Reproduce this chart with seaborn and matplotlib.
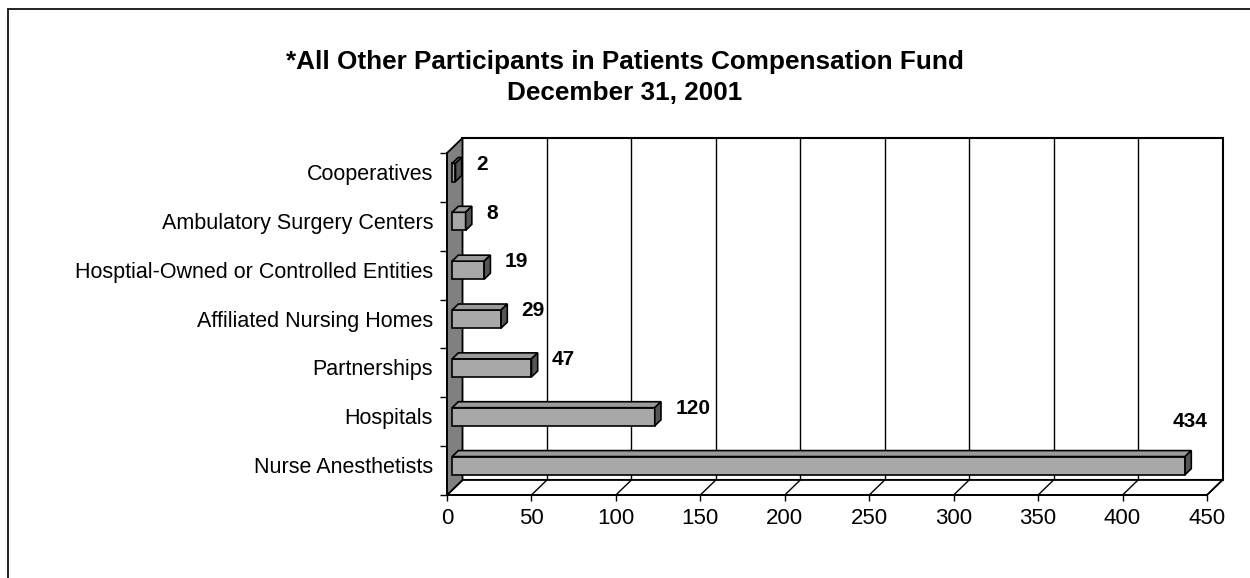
import matplotlib
matplotlib.use("Agg")
import matplotlib.pyplot as plt
import matplotlib.transforms as mtransforms
from matplotlib.patches import Polygon, Rectangle
from matplotlib.lines import Line2D
import seaborn as sns
import pandas as pd
import numpy as np

# --- data ---
categories = ["Cooperatives", "Ambulatory Surgery Centers",
              "Hosptial-Owned or Controlled Entities", "Affiliated Nursing Homes",
              "Partnerships", "Hospitals", "Nurse Anesthetists"]
counts = [2, 8, 19, 29, 47, 120, 434]
x_ticks = [0, 50, 100, 150, 200, 250, 300, 350, 400, 450]
title_lines = ["*All Other Participants in Patients Compensation Fund",
               "December 31, 2001"]

df = pd.DataFrame({"Category": categories, "Count": counts})

sns.set_theme(style="white")
plt.rcParams['font.family'] = ['Liberation Sans', 'DejaVu Sans']
plt.rcParams['axes.unicode_minus'] = False
# plain black text like the Excel original
for k in ['text.color', 'axes.labelcolor', 'xtick.color', 'ytick.color']:
    plt.rcParams[k] = 'black'

W, H, DPI = 1250, 578, 100
fig = plt.figure(figsize=(W / DPI, H / DPI), dpi=DPI, facecolor='white')

# front plane of the fake 3D box, in pixels
left_px, right_px, top_px, bot_px = 447, 1207, 153, 495
ax = fig.add_axes([left_px / W, 1 - bot_px / H,
                   (right_px - left_px) / W, (bot_px - top_px) / H])
ax.set_facecolor('none')

# depth vector (pixels) from front plane to back wall
DX, DY = 15.5, 15.0
BAR_F, BAR_B = 0.33, 0.73   # bar front / back depth, fraction of depth

sns.barplot(data=df, x="Count", y="Category", orient="h", color="#a8a8a8",
            saturation=1, edgecolor="black", linewidth=1.2, width=0.37, ax=ax)

ax.set_xlim(x_ticks[0], x_ticks[-1])
ax.set_ylim(len(categories) - 0.5, -0.5)
ax.set_xlabel("")
ax.set_ylabel("")
for s in ["top", "right"]:
    ax.spines[s].set_visible(False)
for s in ["left", "bottom"]:
    ax.spines[s].set_color("black")
    ax.spines[s].set_linewidth(1.3)
    ax.spines[s].set_zorder(3)

# ticks
ax.set_xticks(x_ticks)
ax.set_xticklabels([str(t) for t in x_ticks], fontsize=16)
ax.tick_params(axis='x', direction='out', length=4, width=1, color='black',
               labelcolor='black', pad=5, bottom=True)
idx = np.arange(len(categories))
ax.set_yticks(idx - 0.11)
ax.set_yticklabels(categories, fontsize=15.5)
ax.set_yticks(np.arange(len(categories) + 1) - 0.5, minor=True)
ax.tick_params(axis='y', which='major', length=0, pad=10, left=True,
               labelcolor='black')
ax.tick_params(axis='y', which='minor', direction='out', length=5, width=1,
               color='black', left=True)

ident = mtransforms.IdentityTransform()
back = mtransforms.offset_copy(ax.transAxes, fig=fig, x=DX, y=DY, units='dots')
back_data = mtransforms.offset_copy(ax.transData, fig=fig, x=DX, y=DY, units='dots')


def px(x, y, depth=0.0):
    p = ax.transData.transform((x, y))
    return (p[0] + depth * DX, p[1] + depth * DY)


y_bot, y_top = ax.get_ylim()
x_lo, x_hi = ax.get_xlim()
bars = [p for p in ax.patches if isinstance(p, Rectangle)]

# back wall
ax.add_patch(Rectangle((0, 0), 1, 1, transform=back, facecolor='white',
                       edgecolor='black', linewidth=1.5, clip_on=False, zorder=0))
# gridlines on back wall
for t in x_ticks[1:-1]:
    ax.add_line(Line2D([t, t], [y_bot, y_top], transform=back_data, color='black',
                       linewidth=1.0, clip_on=False, zorder=0.5))
# floor
floor = [px(x_lo, y_bot), px(x_hi, y_bot), px(x_hi, y_bot, 1), px(x_lo, y_bot, 1)]
ax.add_patch(Polygon(floor, closed=True, transform=ident, facecolor='white',
                     edgecolor='black', linewidth=1.3, clip_on=False, zorder=0.6))
for t in x_ticks:
    a, b = px(t, y_bot), px(t, y_bot, 1)
    ax.add_line(Line2D([a[0], b[0]], [a[1], b[1]], transform=ident, color='black',
                       linewidth=1.0, clip_on=False, zorder=0.7))
# left wall
wall = [px(x_lo, y_bot), px(x_lo, y_top), px(x_lo, y_top, 1), px(x_lo, y_bot, 1)]
ax.add_patch(Polygon(wall, closed=True, transform=ident, facecolor='#808080',
                     edgecolor='black', linewidth=1.3, clip_on=False, zorder=0.8))

# bars: move front faces into depth and add top/side faces
bar_front = mtransforms.offset_copy(ax.transData, fig=fig, x=BAR_F * DX,
                                    y=BAR_F * DY, units='dots')
for bar in bars:
    x0, y0 = bar.get_x(), bar.get_y()
    x1, y1 = x0 + bar.get_width(), y0 + bar.get_height()
    bar.set_transform(bar_front)
    bar.set_clip_on(False)
    bar.set_zorder(2)
    yt = min(y0, y1)  # visually top edge (y axis inverted)
    yb = max(y0, y1)
    top = [px(x0, yt, BAR_F), px(x1, yt, BAR_F), px(x1, yt, BAR_B), px(x0, yt, BAR_B)]
    side = [px(x1, yb, BAR_F), px(x1, yt, BAR_F), px(x1, yt, BAR_B), px(x1, yb, BAR_B)]
    ax.add_patch(Polygon(top, closed=True, transform=ident, facecolor='#9a9a9a',
                         edgecolor='black', linewidth=1.2, clip_on=False, zorder=2.1))
    ax.add_patch(Polygon(side, closed=True, transform=ident, facecolor='#555555',
                         edgecolor='black', linewidth=1.2, clip_on=False, zorder=2.1))

# value labels
for i, v in enumerate(counts):
    if v > 0.9 * x_hi:
        ax.annotate(str(v), xy=(v, i), xytext=(7, 35), textcoords='offset points',
                    ha='center', va='center', fontsize=15, fontweight='bold',
                    color='black', annotation_clip=False, zorder=4)
    else:
        ax.annotate(str(v), xy=(v, i), xytext=(18.5, 9.5), textcoords='offset points',
                    ha='left', va='center', fontsize=15, fontweight='bold',
                    color='black', annotation_clip=False, zorder=4)

# title
fig.text(0.5, 1 - 62 / H, title_lines[0], ha='center', va='center',
         fontsize=18.8, fontweight='bold', color='black')
fig.text(0.5, 1 - 93 / H, title_lines[1], ha='center', va='center',
         fontsize=18.8, fontweight='bold', color='black')

# outer chart frame (cut off at right and bottom)
fig.add_artist(Line2D([8 / W, 1], [1 - 9 / H, 1 - 9 / H], transform=fig.transFigure,
                      color='#222222', linewidth=1.4))
fig.add_artist(Line2D([8 / W, 8 / W], [0, 1 - 9 / H], transform=fig.transFigure,
                      color='#222222', linewidth=1.4))

fig.savefig("out.png", dpi=DPI, facecolor='white')
